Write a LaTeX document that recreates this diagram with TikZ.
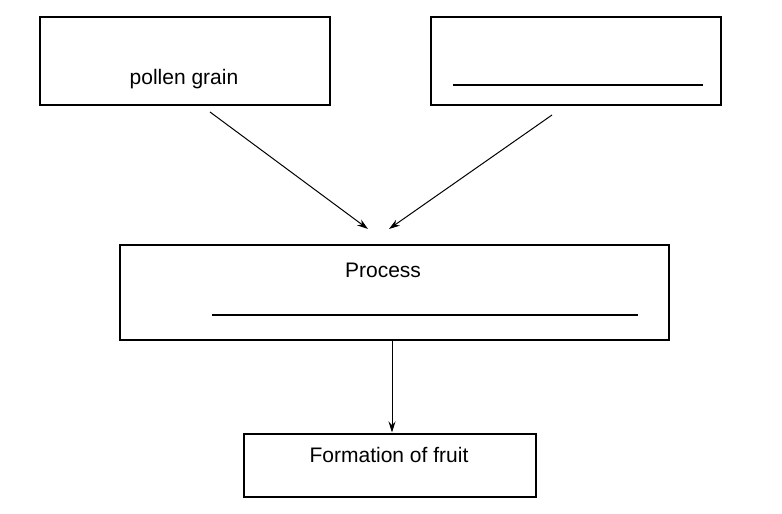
\documentclass[tikz,border=0pt]{standalone}
\usepackage{fontspec}
\setmainfont{Liberation Sans}
\usetikzlibrary{arrows.meta}
\tikzset{
  box/.style={draw, line width=2pt, minimum width=#1, inner sep=0pt},
  lbl/.style={font=\fontsize{21}{25}\selectfont, inner sep=0pt},
  blank/.style={line width=2pt},
  conn/.style={line width=1pt, -{Stealth[length=11pt,width=7pt]}}
}
\begin{document}
\begin{tikzpicture}[x=1pt,y=-1pt]
\useasboundingbox (0,0) rectangle (782,514);
\node[box=290pt, minimum height=88pt] (b1) at (185,61) {};
\node[box=290pt, minimum height=88pt] (b2) at (576,61) {};
\node[box=549pt, minimum height=95pt] (proc) at (394.5,292.5) {};
\node[box=292pt, minimum height=63pt] (fruit) at (390,465) {};
\node[lbl] (t1) at (184,79) {pollen grain};
\node[lbl] (t2) at (383,270) {Process};
\node[lbl] (t3) at (389,455) {Formation of fruit};
\coordinate (u1a) at (453,85); \coordinate (u1b) at (703,85);
\coordinate (u2a) at (212,315); \coordinate (u2b) at (638,315);
\draw[blank] (u1a) -- (u1b);
\draw[blank] (u2a) -- (u2b);
\coordinate (s1) at (210,112); \coordinate (e1) at (368,229);
\coordinate (s2) at (552,115); \coordinate (e2) at (389,229);
\coordinate (s3) at (392,341);
\draw[conn] (s1) -- (e1);
\draw[conn] (s2) -- (e2);
\draw[conn] (s3) -- (fruit.north -| s3);
\end{tikzpicture}
\end{document}
